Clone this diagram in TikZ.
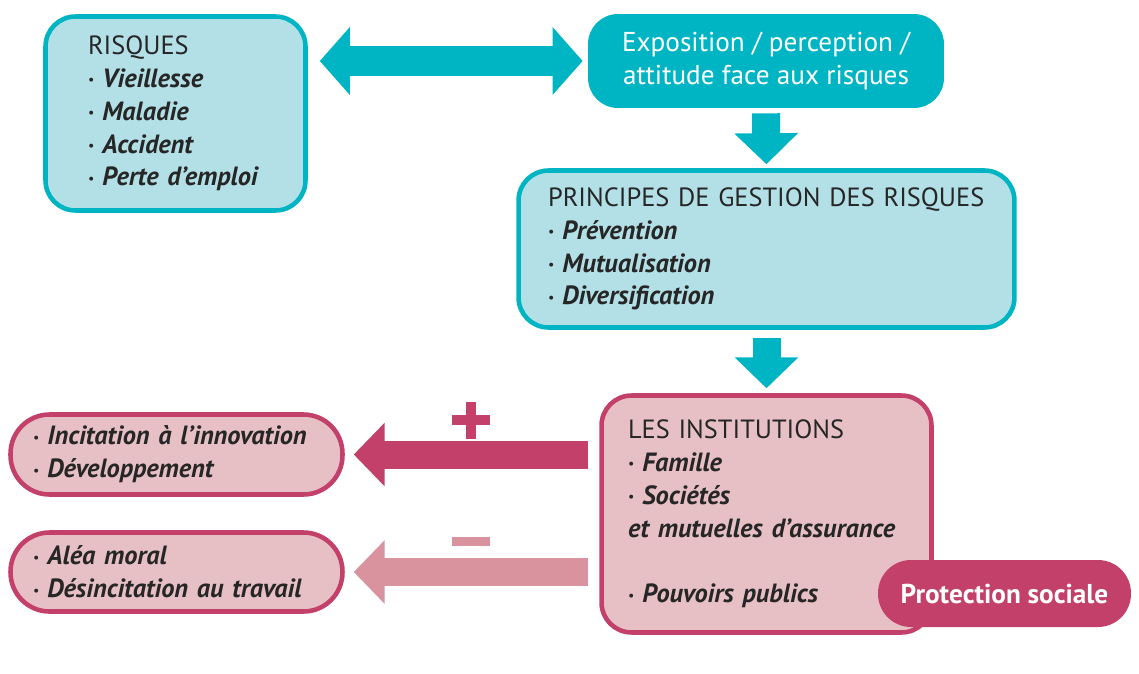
\documentclass[tikz,border=0pt]{standalone}
\usepackage{fontspec}
\setmainfont{PT Sans}
\usetikzlibrary{arrows.meta,positioning}
\definecolor{turq}{HTML}{00B5C3}
\definecolor{paleturq}{HTML}{B2E0E6}
\definecolor{rose}{HTML}{C2406A}
\definecolor{palerose}{HTML}{E7C0C6}
\definecolor{fadedrose}{HTML}{D8939E}
\newcommand{\puce}[1]{\raisebox{1.5pt}{\fontsize{8}{8}\selectfont\textbullet}\hspace{4.5pt}\textit{\textbf{#1}}}

\begin{document}
\begin{tikzpicture}[x=0.02cm, y=-0.02cm,
  font=\fontsize{15}{18.7}\selectfont, text=black!85]
  \tikzset{
    bluebox/.style={draw=turq, fill=paleturq, line width=2.6pt,
      rounded corners=0.6cm, align=left, inner sep=0pt},
    rosebox/.style={draw=rose, fill=palerose, line width=2.6pt,
      align=left, inner sep=0pt},
    fatarrow/.style={line width=0.56cm, -{Triangle[width=1.24cm,length=0.62cm]}}
  }
  \useasboundingbox (0,0) rectangle (1139,673);

  % blue boxes
  \node[bluebox, minimum width=5.2cm, minimum height=3.88cm, text width=3.5cm]
    (risques) at (175.5,113.5)
    {RISQUES\\ \puce{Vieillesse}\\ \puce{Maladie}\\ \puce{Accident}\\ \puce{Perte d'emploi}};
  \node[fill=turq, rounded corners=0.6cm, minimum width=7.12cm, minimum height=1.88cm,
    align=center, text=white, inner sep=0pt, font=\fontsize{15.5}{19}\selectfont]
    (expo) at (766,61) {Exposition / perception /\\ attitude face aux risques};
  \node[bluebox, minimum width=9.92cm, minimum height=3.14cm, text width=8.74cm]
    (principes) at (766.5,249)
    {PRINCIPES DE GESTION DES RISQUES\\ \puce{Prévention}\\ \puce{Mutualisation}\\ \puce{Diversification}};

  % pink boxes
  \node[rosebox, rounded corners=0.6cm, minimum width=6.6cm, minimum height=4.74cm, text width=5.54cm]
    (institutions) at (766.5,514)
    {LES INSTITUTIONS\\ \puce{Famille}\\ \puce{Sociétés}\\
     \mbox{\textit{\textbf{et mutuelles d'assurance}}}\\[18.7pt] \puce{Pouvoirs publics}};
  \node[fill=rose, rounded corners=0.66cm, minimum width=5.06cm, minimum height=1.34cm,
    text=white, inner sep=0pt, font=\fontsize{15.5}{18.7}\selectfont\bfseries]
    (protection) at (1004.5,593.5) {Protection sociale};
  \node[rosebox, rounded corners=0.78cm, minimum width=6.64cm, minimum height=1.6cm, text width=5.74cm]
    (incit) at (176.5,454.5) {\puce{Incitation à l'innovation}\\ \puce{Développement}};
  \node[rosebox, rounded corners=0.78cm, minimum width=6.64cm, minimum height=1.58cm, text width=5.74cm]
    (alea) at (176.5,572) {\puce{Aléa moral}\\ \puce{Désincitation au travail}};

  % arrows
  \draw[turq, line width=0.62cm,
    {Triangle[width=1.32cm,length=0.6cm]}-{Triangle[width=1.32cm,length=0.6cm]},
    shorten <=0.24cm, shorten >=0.1cm] (risques.east |- expo.west) -- (expo.west);
  \draw[fatarrow, turq, shorten <=0.1cm, shorten >=0.08cm] (expo.south) -- (principes.north);
  \draw[fatarrow, turq, shorten <=0.16cm, shorten >=0.1cm] (principes.south) -- (institutions.north);
  \draw[fatarrow, rose, shorten <=0.22cm, shorten >=0.18cm] (institutions.west |- incit.east) -- (incit.east);
  \draw[fatarrow, fadedrose, shorten <=0.22cm, shorten >=0.18cm] (institutions.west |- alea.east) -- (alea.east);

  % signs
  \fill[rose] (452,415) rectangle (490,425);
  \fill[rose] (466,402) rectangle (476,439);
  \fill[fadedrose] (452,537) rectangle (490,546);
\end{tikzpicture}
\end{document}
